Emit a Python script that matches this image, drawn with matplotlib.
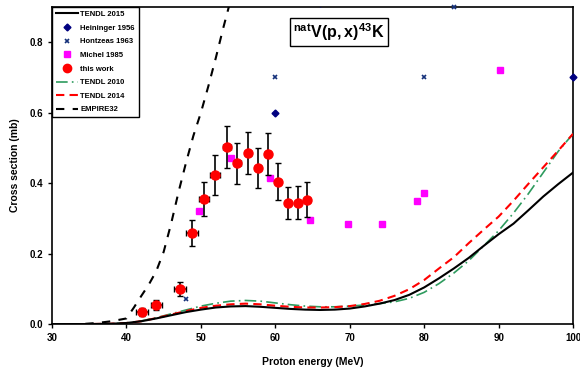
import matplotlib
matplotlib.use("Agg")
import matplotlib.pyplot as plt
import numpy as np
from matplotlib.lines import Line2D

plt.rcParams['font.family'] = ['Liberation Sans', 'DejaVu Sans']
plt.rcParams['font.weight'] = 'bold'
plt.rcParams['mathtext.fontset'] = 'custom'
plt.rcParams['mathtext.rm'] = 'Liberation Sans'
plt.rcParams['mathtext.bf'] = 'Liberation Sans:bold'

# ---- model curves ----
e_curve = [30, 35, 38, 40, 42, 44, 46, 48, 50, 52, 54, 56, 58, 60, 62, 64, 66, 68, 70,
           72, 74, 76, 78, 80, 82, 84, 86, 88, 90, 92, 94, 96, 98, 100]
tendl2015 = [0, 0, 0.001, 0.003, 0.008, 0.016, 0.025, 0.034, 0.041, 0.047, 0.050, 0.051,
             0.049, 0.046, 0.043, 0.041, 0.040, 0.041, 0.044, 0.050, 0.058, 0.068, 0.083,
             0.104, 0.130, 0.158, 0.188, 0.222, 0.255, 0.285, 0.323, 0.362, 0.397, 0.430]
tendl2014 = [0, 0, 0.001, 0.003, 0.008, 0.017, 0.027, 0.037, 0.046, 0.052, 0.056, 0.058,
             0.056, 0.052, 0.049, 0.047, 0.047, 0.048, 0.051, 0.057, 0.066, 0.080, 0.099,
             0.125, 0.158, 0.190, 0.230, 0.268, 0.305, 0.350, 0.398, 0.445, 0.492, 0.540]
tendl2010 = [0, 0, 0.001, 0.003, 0.009, 0.018, 0.029, 0.040, 0.051, 0.059, 0.065, 0.067,
             0.065, 0.060, 0.055, 0.051, 0.049, 0.049, 0.051, 0.054, 0.058, 0.063, 0.073,
             0.090, 0.115, 0.145, 0.180, 0.222, 0.265, 0.315, 0.370, 0.430, 0.490, 0.540]
e_empire = [30, 34, 36, 38, 40, 41, 42, 43, 44, 45, 46, 47, 48, 49, 50, 51, 52, 53, 54]
empire32 = [0, 0, 0.003, 0.008, 0.016, 0.047, 0.080, 0.112, 0.150, 0.205, 0.285, 0.375,
            0.458, 0.535, 0.600, 0.675, 0.755, 0.840, 0.920]

# ---- experimental data ----
hein_e = [60, 100]
hein_cs = [0.60, 0.70]
hein_top_e = [66]
hein_top_cs = [0.91]
hontz_e = [48, 60, 80, 84]
hontz_cs = [0.07, 0.70, 0.70, 0.90]
michel_e = [49.8, 54.0, 59.3, 64.6, 69.7, 74.4, 79.0, 80.0, 90.2]
michel_cs = [0.322, 0.471, 0.414, 0.294, 0.285, 0.285, 0.349, 0.371, 0.722]
tw_e = [42.1, 44.0, 47.2, 48.8, 50.4, 51.9, 53.5, 54.9, 56.3, 57.7, 59.0, 60.4, 61.7, 63.0, 64.3]
tw_cs = [0.035, 0.053, 0.100, 0.258, 0.355, 0.422, 0.502, 0.456, 0.486, 0.443, 0.482,
         0.404, 0.343, 0.345, 0.353]
tw_dcs = [0.011, 0.014, 0.019, 0.036, 0.048, 0.057, 0.060, 0.059, 0.060, 0.057, 0.060,
          0.053, 0.046, 0.048, 0.050]
tw_de = [0.8, 0.75, 0.75, 0.75, 0.7, 0.65, 0.5, 0.45, 0.4, 0.4, 0.35, 0.35, 0.3, 0.3, 0.3]

green = '#2e9b5e'
navy = '#000080'
xblue = '#14307a'

fig = plt.figure(figsize=(5.8, 3.67), dpi=100)
ax = fig.add_axes([0.0897, 0.117, 0.8983, 0.864])

ax.plot(e_curve, tendl2015, color='black', lw=1.5, label='TENDL 2015', zorder=4)
ax.plot(e_curve, tendl2010, color=green, lw=1.2, dashes=(7, 2.5, 1, 2.5), label='TENDL 2010', zorder=3)
ax.plot(e_curve, tendl2014, color='red', lw=1.5, dashes=(4, 2.5), label='TENDL 2014', zorder=3)
ax.plot(e_empire, empire32, color='black', lw=1.5, dashes=(4, 4), label='EMPIRE32', zorder=3)

ax.plot(hein_e, hein_cs, ls='none', marker='D', ms=3.5, color=navy, clip_on=False, zorder=6)
ax.plot(hein_top_e, hein_top_cs, ls='none', marker='D', ms=3.5, color=navy, clip_on=True, zorder=6)
ax.plot(hontz_e, hontz_cs, ls='none', marker='x', ms=3.5, mew=1.2, color=xblue, clip_on=False, zorder=6)
ax.plot(michel_e, michel_cs, ls='none', marker='s', ms=5, color='#ff00ff', zorder=5)
ax.errorbar(tw_e, tw_cs, yerr=tw_dcs, xerr=tw_de, fmt='o', ms=6.5, color='red',
            ecolor='black', elinewidth=1.2, capsize=2, capthick=1, zorder=5)

ax.set_xlim(30, 100)
ax.set_ylim(0, 0.9)
ax.set_xticks(np.arange(30, 101, 10))
ax.set_yticks([0.0, 0.2, 0.4, 0.6, 0.8])
ax.set_yticklabels(['0.0', '0.2', '0.4', '0.6', '0.8'])
ax.tick_params(direction='out', length=3, width=1, labelsize=7)
for lbl in ax.get_xticklabels() + ax.get_yticklabels():
    lbl.set_fontweight('bold')
for s in ax.spines.values():
    s.set_linewidth(1.2)

ax.set_xlabel('Proton energy (MeV)', fontsize=7.5, fontweight='bold', labelpad=10)
ax.set_ylabel('Cross section (mb)', fontsize=7.5, fontweight='bold', labelpad=7)

handles = [
    Line2D([], [], color='black', lw=1.5),
    Line2D([], [], ls='none', marker='D', ms=3.5, color=navy),
    Line2D([], [], ls='none', marker='x', ms=3.5, mew=1.2, color=xblue),
    Line2D([], [], ls='none', marker='s', ms=5, color='#ff00ff'),
    Line2D([], [], ls='none', marker='o', ms=6, color='red'),
    Line2D([], [], color=green, lw=1.2, dashes=(7, 2.5, 1, 2.5)),
    Line2D([], [], color='red', lw=1.5, dashes=(4, 2.5)),
    Line2D([], [], color='black', lw=1.5, dashes=(4, 4)),
]
labels = ['TENDL 2015', 'Heininger 1956', 'Hontzeas 1963', 'Michel 1985', 'this work',
          'TENDL 2010', 'TENDL 2014', 'EMPIRE32']
leg = ax.legend(handles, labels, loc='upper left', bbox_to_anchor=(0, 1), fontsize=5.5,
                frameon=True, fancybox=False, edgecolor='black', framealpha=1,
                borderpad=0.5, labelspacing=0.82, handlelength=2.9, handletextpad=0.3,
                borderaxespad=0)
leg.get_frame().set_linewidth(1.0)
for t in leg.get_texts():
    t.set_fontweight('bold')

ax.text(0.55, 0.921, r'$\mathbf{^{nat}V(p,x)^{43}K}$', transform=ax.transAxes,
        fontsize=11.5, ha='center', va='center',
        bbox=dict(boxstyle='square,pad=0.2', fc='white', ec='black', lw=1.0))

fig.savefig('out.png', dpi=100)
